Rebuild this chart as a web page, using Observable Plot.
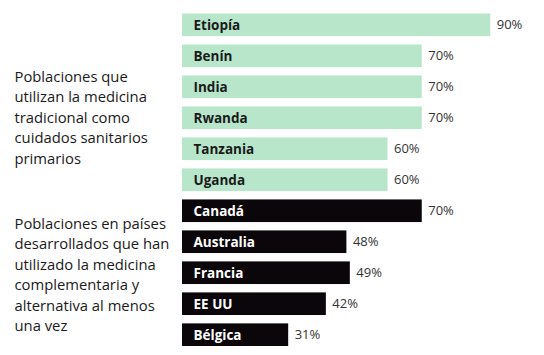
<!DOCTYPE html>
<html>
<head>
<meta charset="utf-8">
<script src="https://cdn.jsdelivr.net/npm/d3@7"></script>
<script src="https://cdn.jsdelivr.net/npm/@observablehq/plot@0.6"></script>
<style>
  html, body { margin: 0; padding: 0; background: #fff; }
  #chart svg { display: block; }
</style>
</head>
<body>
<div id="chart"></div>
<script>
const countries = ["Etiopía", "Benín", "India", "Rwanda", "Tanzania", "Uganda", "Canadá", "Australia", "Francia", "EE UU", "Bélgica"];
const values = [90, 70, 70, 70, 60, 60, 70, 48, 49, 42, 31];
const groups = ["trad", "trad", "trad", "trad", "trad", "trad", "dev", "dev", "dev", "dev", "dev"];
const tradLabel = [{row: "Rwanda", text: "Poblaciones que\nutilizan la medicina\ntradicional como\ncuidados sanitarios\nprimarios"}];
const devLabel = [{row: "Francia", text: "Poblaciones en países\ndesarrollados que han\nutilizado la medicina\ncomplementaria y\nalternativa al menos\nuna vez"}];

const data = countries.map((c, i) => ({country: c, value: values[i], group: groups[i]}));
const font = "'Open Sans', 'Noto Sans', sans-serif";

const chart = Plot.plot({
  width: 544,
  height: 355,
  marginLeft: 182,
  marginRight: 19.5,
  marginTop: 13.5,
  marginBottom: 9,
  style: {fontFamily: font, background: "#fff"},
  x: {domain: [0, 100], axis: null},
  y: {domain: countries, range: [13.5, 346], round: false, axis: null, paddingInner: 0.27, paddingOuter: 0},
  color: {domain: ["trad", "dev"], range: ["#b8e6ca", "#0b0609"]},
  marks: [
    Plot.barX(data, {x: "value", y: "country", fill: "group"}),
    Plot.text(data, {
      x: 0, y: "country", text: "country", textAnchor: "start", dx: 11,
      fill: d => d.group === "trad" ? "#1a1a1a" : "#ffffff",
      fontWeight: "bold", fontSize: 13.5
    }),
    Plot.text(data, {
      x: "value", y: "country", text: d => d.value + "%", textAnchor: "start", dx: 6,
      fill: "#333", fontSize: 13
    }),
    Plot.text(tradLabel, {
      x: 0, y: "row", text: "text", textAnchor: "start",
      dx: -168, dy: -2,
      lineHeight: 1.385, fontSize: 14.8, fill: "#1a1a1a"
    }),
    Plot.text(devLabel, {
      x: 0, y: "row", text: "text", textAnchor: "start",
      dx: -168, dy: 0,
      lineHeight: 1.385, fontSize: 14.8, fill: "#1a1a1a"
    })
  ]
});
document.getElementById("chart").appendChild(chart);
</script>
</body>
</html>
